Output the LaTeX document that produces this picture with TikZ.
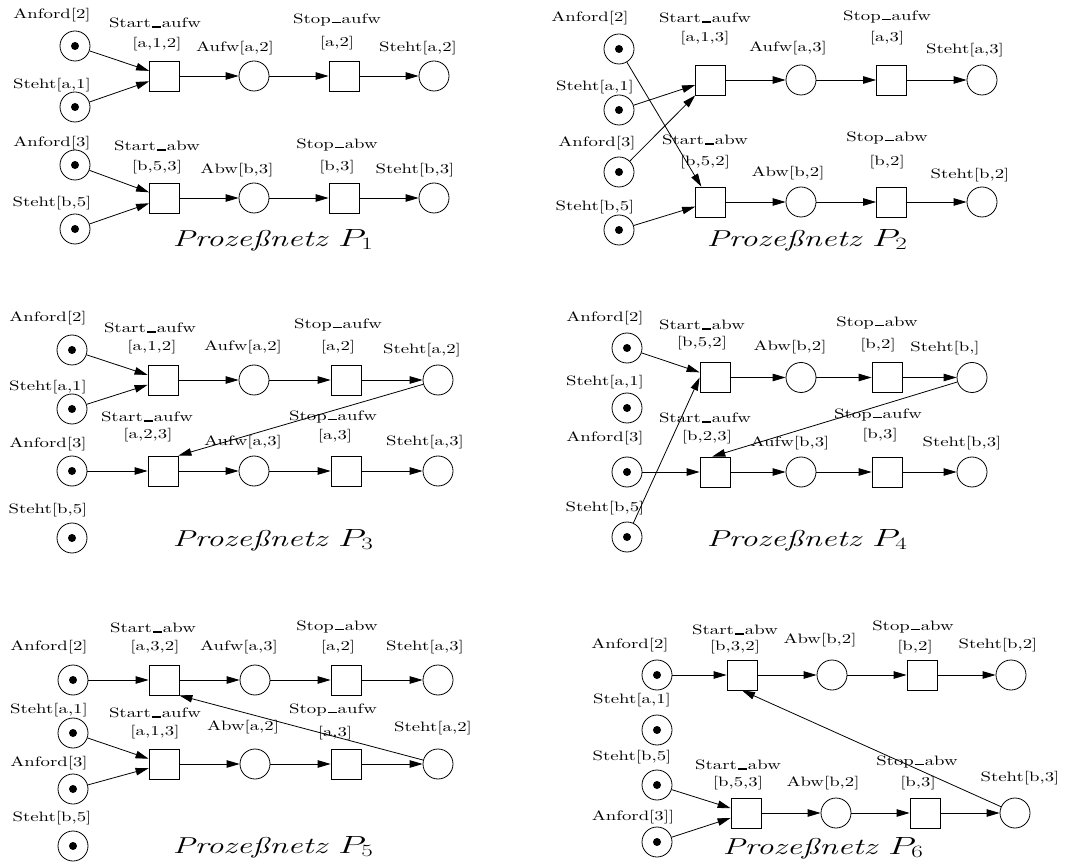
\documentclass[tikz,border=0pt]{standalone}
\usepackage{fontspec}
\usepackage{graphicx}
\usetikzlibrary{arrows.meta}

\newfontfamily\lblfont{lmroman10-regular.otf}[FakeStretch=1.38]
\newcommand\usc{\kern1pt\rule{9pt}{1.6pt}\kern1pt}
\newcommand\netztitel[1]{\scalebox{1.45}[1]{\itshape Prozeßnetz $P_{#1}$}}

\tikzset{
  place/.style={circle, draw, minimum size=30pt, inner sep=0pt, line width=0.8pt},
  marked/.style={place, path picture={\fill (path picture bounding box.center) circle (4pt);}},
  trans/.style={rectangle, draw, minimum size=30pt, inner sep=0pt, line width=0.8pt},
  lbl/.style={inner sep=0pt, font=\lblfont\fontsize{13.6}{16}\selectfont},
  titel/.style={inner sep=0pt, font=\fontsize{23}{28}\selectfont},
  arc/.style={-{Triangle[length=13pt,width=7.5pt]}, line width=0.8pt}
}

\begin{document}
\begin{tikzpicture}[x=1pt, y=-1pt]
    \useasboundingbox (0,0) rectangle (1066,866);

    % Prozessnetz P1
    \node[marked] (n1-a2) at (75,46) {};
    \node[marked] (n1-sa1) at (75,107) {};
    \node[marked] (n1-a3) at (75,165) {};
    \node[marked] (n1-sb5) at (75,229) {};
    \node[trans] (n1-t11) at (164.5,76) {};
    \node[place] (n1-p11) at (254,76) {};
    \node[trans] (n1-t12) at (344,76) {};
    \node[place] (n1-p12) at (434,76) {};
    \node[trans] (n1-t21) at (164.5,198) {};
    \node[place] (n1-p21) at (254,198) {};
    \node[trans] (n1-t22) at (344,198) {};
    \node[place] (n1-p22) at (434,198) {};
    \node[lbl] (n1-la2) at (52,15) {Anford[2]};
    \node[lbl] (n1-lsa1) at (52,85) {Steht[a,1]};
    \node[lbl] (n1-la3) at (52,143) {Anford[3]};
    \node[lbl] (n1-lsb5) at (52,203) {Steht[b,5]};
    \node[lbl] (n1-lt11) at (155,23) {Start\usc aufw};
    \node[lbl] (n1-lt11b) at (157,44) {[a,1,2]};
    \node[lbl] (n1-lp11) at (235,48) {Aufw[a,2]};
    \node[lbl] (n1-lt12) at (337,20) {Stop\usc aufw};
    \node[lbl] (n1-lt12b) at (337,43) {[a,2]};
    \node[lbl] (n1-lp12) at (418,48) {Steht[a,2]};
    \node[lbl] (n1-lt21) at (157,146) {Start\usc abw};
    \node[lbl] (n1-lt21b) at (157,167) {[b,5,3]};
    \node[lbl] (n1-lp21) at (237,170) {Abw[b,3]};
    \node[lbl] (n1-lt22) at (337,145) {Stop\usc abw};
    \node[lbl] (n1-lt22b) at (337,167) {[b,3]};
    \node[lbl] (n1-lp22) at (415,170) {Steht[b,3]};
    \node[titel] (n1-titel) at (273,240) {\netztitel{1}};
    \draw[arc] (n1-a2) -- (n1-t11);
    \draw[arc] (n1-sa1) -- (n1-t11);
    \draw[arc] (n1-a3) -- (n1-t21);
    \draw[arc] (n1-sb5) -- (n1-t21);

    % Prozessnetz P2
    \node[marked] (n2-a2) at (619,49) {};
    \node[marked] (n2-sa1) at (619,110) {};
    \node[marked] (n2-a3) at (619,172) {};
    \node[marked] (n2-sb5) at (619,230) {};
    \node[trans] (n2-t11) at (710.5,80) {};
    \node[place] (n2-p11) at (801,80) {};
    \node[trans] (n2-t12) at (891.5,80) {};
    \node[place] (n2-p12) at (982,80) {};
    \node[trans] (n2-t21) at (710.5,202) {};
    \node[place] (n2-p21) at (801,202) {};
    \node[trans] (n2-t22) at (891.5,202) {};
    \node[place] (n2-p22) at (982,202) {};
    \node[lbl] (n2-la2) at (590,18) {Anford[2]};
    \node[lbl] (n2-lsa1) at (595,87) {Steht[a,1]};
    \node[lbl] (n2-la3) at (597,143) {Anford[3]};
    \node[lbl] (n2-lsb5) at (595,207) {Steht[b,5]};
    \node[lbl] (n2-lt11) at (705,18) {Start\usc aufw};
    \node[lbl] (n2-lt11b) at (705,38) {[a,1,3]};
    \node[lbl] (n2-lp11) at (788,48) {Aufw[a,3]};
    \node[lbl] (n2-lt12) at (887,17) {Stop\usc aufw};
    \node[lbl] (n2-lt12b) at (887,38) {[a,3]};
    \node[lbl] (n2-lp12) at (965,50) {Steht[a,3]};
    \node[lbl] (n2-lt21) at (705,140) {Start\usc abw};
    \node[lbl] (n2-lt21b) at (705,162) {[b,5,2]};
    \node[lbl] (n2-lp21) at (788,173) {Abw[b,2]};
    \node[lbl] (n2-lt22) at (887,138) {Stop\usc abw};
    \node[lbl] (n2-lt22b) at (887,162) {[b,2]};
    \node[lbl] (n2-lp22) at (970,175) {Steht[b,2]};
    \node[titel] (n2-titel) at (807,240) {\netztitel{2}};
    \draw[arc] (n2-a2) -- (n2-t21);
    \draw[arc] (n2-sa1) -- (n2-t11);
    \draw[arc] (n2-a3) -- (n2-t11);
    \draw[arc] (n2-sb5) -- (n2-t21);

    % Prozessnetz P3
    \node[marked] (n3-a2) at (72,350) {};
    \node[marked] (n3-sa1) at (72,409) {};
    \node[marked] (n3-a3) at (72,471) {};
    \node[marked] (n3-sb5) at (72,538) {};
    \node[trans] (n3-t11) at (163,380) {};
    \node[place] (n3-p11) at (254,380) {};
    \node[trans] (n3-t12) at (346,380) {};
    \node[place] (n3-p12) at (438,380) {};
    \node[trans] (n3-t21) at (163,471) {};
    \node[place] (n3-p21) at (254,471) {};
    \node[trans] (n3-t22) at (346,471) {};
    \node[place] (n3-p22) at (438,471) {};
    \node[lbl] (n3-la2) at (48,318) {Anford[2]};
    \node[lbl] (n3-lsa1) at (48,387) {Steht[a,1]};
    \node[lbl] (n3-la3) at (48,444) {Anford[3]};
    \node[lbl] (n3-lsb5) at (48,510) {Steht[b,5]};
    \node[lbl] (n3-lt11) at (150,328) {Start\usc aufw};
    \node[lbl] (n3-lt11b) at (152,347) {[a,1,2]};
    \node[lbl] (n3-lp11) at (243,347) {Aufw[a,2]};
    \node[lbl] (n3-lt12) at (338,325) {Stop\usc aufw};
    \node[lbl] (n3-lt12b) at (338,347) {[a,2]};
    \node[lbl] (n3-lp12) at (422,350) {Steht[a,2]};
    \node[lbl] (n3-lt21) at (147,417) {Start\usc aufw};
    \node[lbl] (n3-lt21b) at (148,435) {[a,2,3]};
    \node[lbl] (n3-lp21) at (243,442) {Aufw[a,3]};
    \node[lbl] (n3-lt22) at (333,417) {Stop\usc aufw};
    \node[lbl] (n3-lt22b) at (335,436) {[a,3]};
    \node[lbl] (n3-lp22) at (425,442) {Steht[a,3]};
    \node[titel] (n3-titel) at (273,540) {\netztitel{3}};
    \draw[arc] (n3-a2) -- (n3-t11);
    \draw[arc] (n3-sa1) -- (n3-t11);
    \draw[arc] (n3-a3) -- (n3-t21);
    \draw[arc] (n3-p12) -- (n3-t21.north east);

    % Prozessnetz P4
    \node[marked] (n4-a2) at (627,348) {};
    \node[marked] (n4-sa1) at (627,408) {};
    \node[marked] (n4-a3) at (627,472) {};
    \node[marked] (n4-sb5) at (627,537) {};
    \node[trans] (n4-t11) at (715,377.5) {};
    \node[place] (n4-p11) at (801,377.5) {};
    \node[trans] (n4-t12) at (887,377.5) {};
    \node[place] (n4-p12) at (972,377.5) {};
    \node[trans] (n4-t21) at (715,472) {};
    \node[place] (n4-p21) at (801,472) {};
    \node[trans] (n4-t22) at (887,472) {};
    \node[place] (n4-p22) at (972,472) {};
    \node[lbl] (n4-la2) at (605,318) {Anford[2]};
    \node[lbl] (n4-lsa1) at (605,382) {Steht[a,1]};
    \node[lbl] (n4-la3) at (605,438) {Anford[3]};
    \node[lbl] (n4-lsb5) at (605,508) {Steht[b,5]};
    \node[lbl] (n4-lt11) at (702,325) {Start\usc abw};
    \node[lbl] (n4-lt11b) at (702,343) {[b,5,2]};
    \node[lbl] (n4-lp11) at (790,347) {Abw[b,2]};
    \node[lbl] (n4-lt12) at (877,323) {Stop\usc abw};
    \node[lbl] (n4-lt12b) at (878,345) {[b,2]};
    \node[lbl] (n4-lp12) at (945,348) {Steht[b,]};
    \node[lbl] (n4-lt21) at (705,418) {Start\usc aufw};
    \node[lbl] (n4-lt21b) at (707,437) {[b,2,3]};
    \node[lbl] (n4-lp21) at (790,443) {Aufw[b,3]};
    \node[lbl] (n4-lt22) at (878,415) {Stop\usc aufw};
    \node[lbl] (n4-lt22b) at (880,435) {[b,3]};
    \node[lbl] (n4-lp22) at (962,443) {Steht[b,3]};
    \node[titel] (n4-titel) at (807,540) {\netztitel{4}};
    \draw[arc] (n4-a2) -- (n4-t11);
    \draw[arc] (n4-sb5) -- (n4-t11.west);
    \draw[arc] (n4-a3) -- (n4-t21);
    \draw[arc] (n4-p12) -- (n4-t21.100);

    % Prozessnetz P5
    \node[marked] (n5-a2) at (73,680) {};
    \node[marked] (n5-sa1) at (73,733) {};
    \node[marked] (n5-a3) at (73,789) {};
    \node[marked] (n5-sb5) at (73,846) {};
    \node[trans] (n5-t11) at (164,680) {};
    \node[place] (n5-p11) at (255,680) {};
    \node[trans] (n5-t12) at (346,680) {};
    \node[place] (n5-p12) at (438,680) {};
    \node[trans] (n5-t21) at (164,764) {};
    \node[place] (n5-p21) at (255,764) {};
    \node[trans] (n5-t22) at (346,764) {};
    \node[place] (n5-p22) at (438,764) {};
    \node[lbl] (n5-la2) at (49,647) {Anford[2]};
    \node[lbl] (n5-lsa1) at (49,710) {Steht[a,1]};
    \node[lbl] (n5-la3) at (49,763) {Anford[3]};
    \node[lbl] (n5-lsb5) at (52,818) {Steht[b,5]};
    \node[lbl] (n5-lt11) at (153,628) {Start\usc abw};
    \node[lbl] (n5-lt11b) at (155,647) {[a,3,2]};
    \node[lbl] (n5-lp11) at (239,647) {Aufw[a,3]};
    \node[lbl] (n5-lt12) at (337,627) {Stop\usc abw};
    \node[lbl] (n5-lt12b) at (338,647) {[a,2]};
    \node[lbl] (n5-lp12) at (425,647) {Steht[a,3]};
    \node[lbl] (n5-lt21) at (155,713) {Start\usc aufw};
    \node[lbl] (n5-lt21b) at (155,732) {[a,1,3]};
    \node[lbl] (n5-lp21) at (243,727) {Abw[a,2]};
    \node[lbl] (n5-lt22) at (333,710) {Stop\usc aufw};
    \node[lbl] (n5-lt22b) at (335,733) {[a,3]};
    \node[lbl] (n5-lp22) at (433,728) {Steht[a,2]};
    \node[titel] (n5-titel) at (273,847) {\netztitel{5}};
    \draw[arc] (n5-a2) -- (n5-t11);
    \draw[arc] (n5-sa1) -- (n5-t21);
    \draw[arc] (n5-a3) -- (n5-t21);
    \draw[arc] (n5-p22) -- (n5-t11.south east);

    % Prozessnetz P6
    \node[marked] (n6-a2) at (657,675) {};
    \node[marked] (n6-sa1) at (657,730) {};
    \node[marked] (n6-sb5) at (657,785) {};
    \node[marked] (n6-a3) at (657,842) {};
    \node[trans] (n6-t11) at (742,675) {};
    \node[place] (n6-p11) at (832,675) {};
    \node[trans] (n6-t12) at (922,675) {};
    \node[place] (n6-p12) at (1011,675) {};
    \node[trans] (n6-t21) at (746,813) {};
    \node[place] (n6-p21) at (836,813) {};
    \node[trans] (n6-t22) at (925,813) {};
    \node[place] (n6-p22) at (1015,813) {};
    \node[lbl] (n6-la2) at (630,645) {Anford[2]};
    \node[lbl] (n6-lsa1) at (632,700) {Steht[a,1]};
    \node[lbl] (n6-lsb5) at (632,757) {Steht[b,5]};
    \node[lbl] (n6-la3) at (633,817) {Anford[3]]};
    \node[lbl] (n6-lt11) at (735,630) {Start\usc abw};
    \node[lbl] (n6-lt11b) at (735,647) {[b,3,2]};
    \node[lbl] (n6-lp11) at (820,640) {Abw[b,2]};
    \node[lbl] (n6-lt12) at (913,627) {Stop\usc abw};
    \node[lbl] (n6-lt12b) at (915,647) {[b,2]};
    \node[lbl] (n6-lp12) at (998,645) {Steht[b,2]};
    \node[lbl] (n6-lt21) at (738,765) {Start\usc abw};
    \node[lbl] (n6-lt21b) at (738,783) {[b,5,3]};
    \node[lbl] (n6-lp21) at (823,783) {Abw[b,2]};
    \node[lbl] (n6-lt22) at (917,762) {Stop\usc abw};
    \node[lbl] (n6-lt22b) at (918,783) {[b,3]};
    \node[lbl] (n6-lp22) at (1020,778) {Steht[b,3]};
    \node[titel] (n6-titel) at (823,848) {\netztitel{6}};
    \draw[arc] (n6-a2) -- (n6-t11);
    \draw[arc] (n6-sb5) -- (n6-t21);
    \draw[arc] (n6-a3) -- (n6-t21);
    \draw[arc] (n6-p22) -- (n6-t11.south);

    % Ketten Transition -> Stelle -> Transition -> Stelle
    \foreach \n in {1,...,6}
      \foreach \r in {1,2} {
        \draw[arc] (n\n-t\r1) -- (n\n-p\r1);
        \draw[arc] (n\n-p\r1) -- (n\n-t\r2);
        \draw[arc] (n\n-t\r2) -- (n\n-p\r2);
      }
\end{tikzpicture}
\end{document}
